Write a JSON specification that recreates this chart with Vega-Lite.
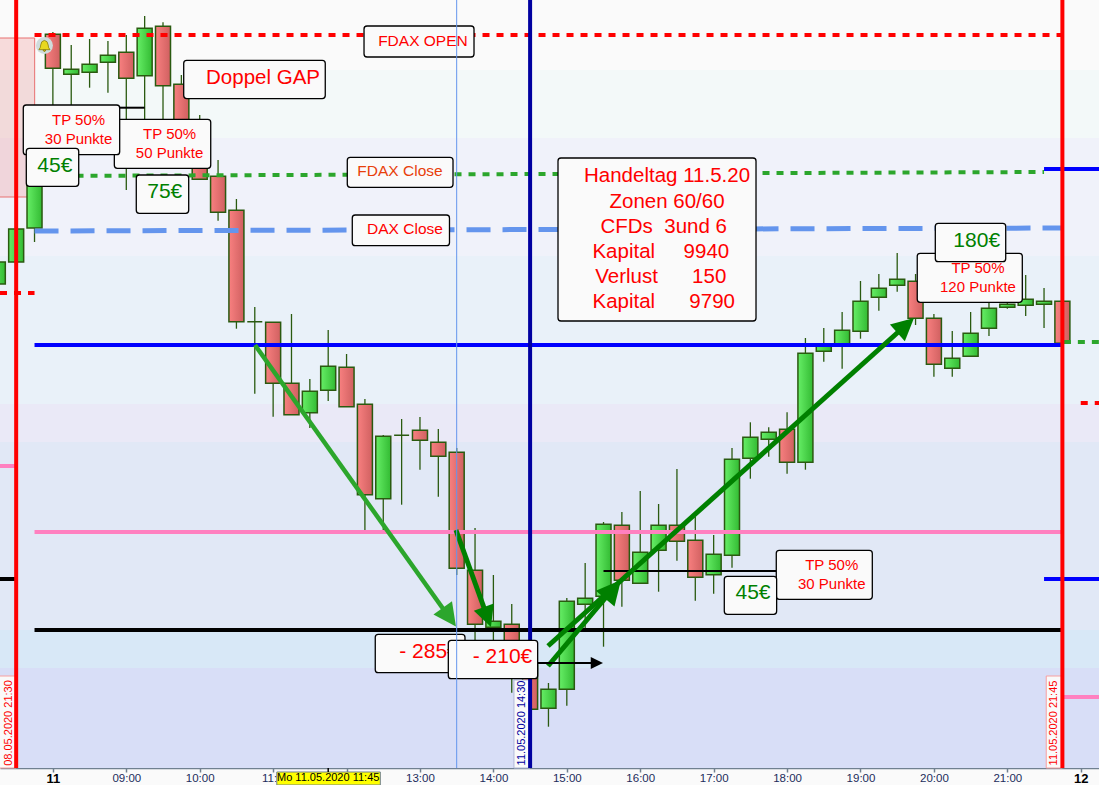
{
"$schema":"https://vega.github.io/schema/vega-lite/v6.json",
"width":1099,"height":768,"autosize":"none","padding":{"left":0,"top":0,"right":0,"bottom":17},
"background":"#fafafa",
"config":{"view":{"stroke":null},"font":"Liberation Sans","axis":{"grid":false}},
"resolve":{"scale":{"color":"independent","stroke":"independent","size":"independent"}},
"datasets":{
"bands":[
{"zone":"a","top":11000,"bottom":10965},{"zone":"b","top":10965,"bottom":10931},{"zone":"c","top":10931,"bottom":10872},{"zone":"d","top":10872,"bottom":10798},{"zone":"e","top":10798,"bottom":10779},{"zone":"f","top":10779,"bottom":10685},{"zone":"g","top":10685,"bottom":10666},{"zone":"h","top":10666,"bottom":10616}],
"candles":[
{"t":7.25,"open":10858,"high":10869,"low":10858,"close":10869},
{"t":7.5,"open":10869,"high":10885.5,"low":10869,"close":10885.5},
{"t":7.75,"open":10886,"high":10917.5,"low":10879,"close":10917.5},
{"t":8,"open":10982.85,"high":10984,"low":10940,"close":10965.85},
{"t":8.25,"open":10962.85,"high":10977.5,"low":10945,"close":10965.35},
{"t":8.5,"open":10963.85,"high":10980.5,"low":10956.15,"close":10967.85},
{"t":8.75,"open":10968.85,"high":10979.5,"low":10953.65,"close":10972.35},
{"t":9,"open":10973.85,"high":10982.5,"low":10905,"close":10960.85},
{"t":9.25,"open":10962.15,"high":10992,"low":10940.5,"close":10985.85},
{"t":9.5,"open":10986.85,"high":10988.85,"low":10940,"close":10957.15},
{"t":9.75,"open":10957.85,"high":10962.5,"low":10930,"close":10939},
{"t":10,"open":10939,"high":10942.5,"low":10910.35,"close":10910.35},
{"t":10.25,"open":10911.85,"high":10920,"low":10889.65,"close":10893.85},
{"t":10.5,"open":10894.85,"high":10900.5,"low":10835.65,"close":10839.15},
{"t":10.75,"open":10839.15,"high":10846.5,"low":10803.15,"close":10839.15},
{"t":11,"open":10838.85,"high":10839,"low":10791.65,"close":10808.35},
{"t":11.25,"open":10808.35,"high":10843,"low":10792.65,"close":10792.65},
{"t":11.5,"open":10793.65,"high":10810.5,"low":10786,"close":10804.35},
{"t":11.75,"open":10804.85,"high":10835,"low":10799.5,"close":10816.85},
{"t":12,"open":10816.35,"high":10823,"low":10796.65,"close":10796.65},
{"t":12.25,"open":10797.85,"high":10800.5,"low":10735,"close":10752.65},
{"t":12.5,"open":10750.65,"high":10782.5,"low":10733.5,"close":10781.85},
{"t":12.75,"open":10782.35,"high":10790.5,"low":10747.65,"close":10782.35},
{"t":13,"open":10784.85,"high":10791.5,"low":10765.15,"close":10779.85},
{"t":13.25,"open":10778.85,"high":10785.5,"low":10751.65,"close":10771.85},
{"t":13.5,"open":10773.85,"high":10776,"low":10712.5,"close":10715.85},
{"t":13.75,"open":10714.85,"high":10736,"low":10680,"close":10687.85},
{"t":14,"open":10686.35,"high":10712.5,"low":10677.5,"close":10689.35},
{"t":14.25,"open":10687.85,"high":10698,"low":10653.65,"close":10667.5},
{"t":14.5,"open":10667.5,"high":10677.5,"low":10645.35,"close":10645.35},
{"t":14.75,"open":10645.85,"high":10658.5,"low":10636.65,"close":10655.35},
{"t":15,"open":10655.35,"high":10701,"low":10647.15,"close":10699.35},
{"t":15.25,"open":10697.85,"high":10718.5,"low":10685,"close":10700.85},
{"t":15.5,"open":10701.85,"high":10739,"low":10676.65,"close":10737.85},
{"t":15.75,"open":10737.35,"high":10744,"low":10696.65,"close":10709.85},
{"t":16,"open":10708.35,"high":10754.5,"low":10708.35,"close":10723.85},
{"t":16.25,"open":10724.85,"high":10748,"low":10704.15,"close":10737.35},
{"t":16.5,"open":10737.35,"high":10765.5,"low":10719.65,"close":10729.35},
{"t":16.75,"open":10729.85,"high":10741.65,"low":10699.65,"close":10711.35},
{"t":17,"open":10712.65,"high":10732.5,"low":10703.15,"close":10722.85},
{"t":17.25,"open":10722.35,"high":10776,"low":10716.15,"close":10770.35},
{"t":17.5,"open":10770.85,"high":10788.85,"low":10760.65,"close":10781.35},
{"t":17.75,"open":10780.35,"high":10786.35,"low":10771.65,"close":10783.85},
{"t":18,"open":10785.35,"high":10793.85,"low":10763.15,"close":10768.85},
{"t":18.25,"open":10768.85,"high":10831,"low":10765.15,"close":10823.35},
{"t":18.5,"open":10824.35,"high":10836,"low":10819.15,"close":10827.85},
{"t":18.75,"open":10827.5,"high":10844,"low":10815.65,"close":10834.85},
{"t":19,"open":10834.35,"high":10859.5,"low":10830.65,"close":10849.35},
{"t":19.25,"open":10851.35,"high":10863,"low":10844.65,"close":10855.85},
{"t":19.5,"open":10857.35,"high":10873.5,"low":10854.15,"close":10860.35},
{"t":19.75,"open":10859.35,"high":10863,"low":10837.5,"close":10840.85},
{"t":20,"open":10840.85,"high":10843,"low":10811.65,"close":10817.85},
{"t":20.25,"open":10815.85,"high":10834.5,"low":10811.65,"close":10820.85},
{"t":20.5,"open":10821.85,"high":10844,"low":10821.85,"close":10833.35},
{"t":20.75,"open":10835.85,"high":10848.5,"low":10832,"close":10845.85},
{"t":21,"open":10846.35,"high":10855,"low":10845.65,"close":10847.85},
{"t":21.25,"open":10847.35,"high":10862.5,"low":10842,"close":10850.35},
{"t":21.5,"open":10847.85,"high":10856,"low":10836,"close":10849.35},
{"t":21.75,"open":10849.35,"high":10849.35,"low":10828.35,"close":10828.35}],
"levels":[
{"id":"open","kind":"reddash","t":7.75,"p":10982.5},{"id":"open","kind":"reddash","t":21.75,"p":10982.5},
{"id":"s1","kind":"reddash","t":7.28,"p":10853.5},{"id":"s1","kind":"reddash","t":7.75,"p":10853.5},
{"id":"s2","kind":"reddash","t":22,"p":10798.5},{"id":"s2","kind":"reddash","t":22.25,"p":10798.5},
{"id":"close","kind":"greendash","t":7.75,"p":10912},{"id":"close","kind":"greendash","t":21.5,"p":10914},
{"id":"s3","kind":"greendash","t":21.77,"p":10829},{"id":"s3","kind":"greendash","t":22.25,"p":10829},
{"id":"s4","kind":"greendash","t":7.28,"p":10637.5},{"id":"s4","kind":"greendash","t":7.5,"p":10637.5},
{"id":"dax","kind":"bluedash","t":7.75,"p":10884.5},{"id":"dax","kind":"bluedash","t":21.75,"p":10886},
{"id":"blue","kind":"blue","t":7.75,"p":10827.5},{"id":"blue","kind":"blue","t":21.75,"p":10827.5},
{"id":"s5","kind":"blue","t":21.5,"p":10915.5},{"id":"s5","kind":"blue","t":22.25,"p":10915.5},
{"id":"s6","kind":"blue","t":21.5,"p":10710.5},{"id":"s6","kind":"blue","t":22.25,"p":10710.5},
{"id":"pink","kind":"pink","t":7.75,"p":10734},{"id":"pink","kind":"pink","t":21.75,"p":10734},
{"id":"s7","kind":"pink","t":7.28,"p":10767},{"id":"s7","kind":"pink","t":7.5,"p":10767},
{"id":"s8","kind":"pink","t":21.77,"p":10651.5},{"id":"s8","kind":"pink","t":22.25,"p":10651.5},
{"id":"black","kind":"black","t":7.75,"p":10685},{"id":"black","kind":"black","t":21.75,"p":10685},
{"id":"s9","kind":"black","t":7.28,"p":10710.5},{"id":"s9","kind":"black","t":7.5,"p":10710.5},
{"id":"tp1","kind":"thin","t":15.5,"p":10714.5},{"id":"tp1","kind":"thin","t":17.85,"p":10714.5},
{"id":"tp2","kind":"thin","t":8.887,"p":10946.15},{"id":"tp2","kind":"thin","t":9.25,"p":10946.15}],
"vlines":[{"kind":"red","t":7.5},{"kind":"red","t":21.75},{"kind":"navy","t":14.5},{"kind":"cursor","t":13.5}],
"arrows":[
{"id":"A","part":"shaft","t":10.753,"p":10827.5},{"id":"A","part":"shaft","t":13.395,"p":10691.5},{"id":"A","part":"tip","t":13.49,"p":10686.75},
{"id":"B","part":"shaft","t":13.49,"p":10735},{"id":"B","part":"shaft","t":13.913,"p":10692},{"id":"B","part":"tip","t":13.967,"p":10686.5},
{"id":"C","part":"shaft","t":14.744,"p":10667},{"id":"C","part":"shaft","t":15.629,"p":10705.5},{"id":"C","part":"tip","t":15.738,"p":10710},
{"id":"D","part":"shaft","t":14.744,"p":10677},{"id":"D","part":"shaft","t":19.606,"p":10837},{"id":"D","part":"tip","t":19.729,"p":10841},
{"id":"E","part":"shaft","t":14.58,"p":10668.5},{"id":"E","part":"shaft","t":15.383,"p":10668.5},{"id":"E","part":"tip","t":15.493,"p":10668.5}],
"boxes":[
{"tier":1,"t1":8.837,"t2":10.15,"p1":10940.35,"p2":10915.85},
{"tier":1,"t1":12.391,"t2":13.613,"p1":10682.85,"p2":10663.65},
{"tier":1,"t1":19.773,"t2":21.204,"p1":10873.35,"p2":10848.85},
{"tier":1,"t1":17.853,"t2":19.161,"p1":10724.85,"p2":10700.35},
{"tier":2,"t1":7.597,"t2":8.91,"p1":10947.5,"p2":10922.65},
{"tier":2,"t1":13.386,"t2":14.603,"p1":10679.85,"p2":10660.65},
{"tier":2,"t1":20.019,"t2":20.978,"p1":10888.35,"p2":10869.15},
{"tier":2,"t1":17.145,"t2":17.858,"p1":10711.85,"p2":10692.85},
{"tier":2,"t1":9.136,"t2":9.85,"p1":10912.5,"p2":10893.35},
{"tier":2,"t1":9.782,"t2":11.71,"p1":10969.85,"p2":10950.7},
{"tier":2,"t1":12.238,"t2":13.736,"p1":10987,"p2":10971.5},
{"tier":2,"t1":12.01,"t2":13.45,"p1":10921.35,"p2":10906.35},
{"tier":2,"t1":12.078,"t2":13.402,"p1":10892.5,"p2":10877.15},
{"tier":2,"t1":14.88,"t2":17.577,"p1":10921,"p2":10839.5},
{"tier":3,"t1":7.638,"t2":8.352,"p1":10925.85,"p2":10906.85}],
"texts":[
{"tier":1,"style":"tp","text":"TP 50%","t":9.59,"p":10933.15},
{"tier":1,"style":"tp","text":"50 Punkte","t":9.59,"p":10923.35},
{"tier":1,"style":"loss","text":"- 285€","t":13.123,"p":10673.85},
{"tier":1,"style":"tp","text":"TP 50%","t":20.6,"p":10865.85},
{"tier":1,"style":"tp","text":"120 Punkte","t":20.6,"p":10856.35},
{"tier":1,"style":"tp","text":"TP 50%","t":18.608,"p":10717.5},
{"tier":1,"style":"tp","text":"30 Punkte","t":18.608,"p":10707.85},
{"tier":2,"style":"tp","text":"TP 50%","t":8.35,"p":10940},
{"tier":2,"style":"tp","text":"30 Punkte","t":8.35,"p":10930.35},
{"tier":2,"style":"loss","text":"- 210€","t":14.124,"p":10671.35},
{"tier":2,"style":"euro","text":"180€","t":20.583,"p":10879.65},
{"tier":2,"style":"euro","text":"45€","t":17.536,"p":10703.35},
{"tier":2,"style":"euro","text":"75€","t":9.524,"p":10903.85},
{"tier":2,"style":"big","text":"Doppel GAP","t":10.862,"p":10961},
{"tier":2,"style":"label","text":"FDAX OPEN","t":13.04,"p":10979.5},
{"tier":2,"style":"orange","text":"FDAX Close","t":12.728,"p":10914.5},
{"tier":2,"style":"label","text":"DAX Close","t":12.796,"p":10885.5},
{"tier":2,"style":"big","text":"Handeltag 11.5.20","t":16.365,"p":10912},
{"tier":2,"style":"big","text":"Zonen 60/60","t":16.365,"p":10899},
{"tier":2,"style":"big","text":"CFDs\u00a0\u00a03und 6","t":16.32,"p":10886.5},
{"tier":2,"style":"big","text":"Kapital\u00a0\u00a0\u00a0\u00a0\u00a09940","t":16.28,"p":10874},
{"tier":2,"style":"big","text":"Verlust\u00a0\u00a0\u00a0\u00a0\u00a0\u00a0150","t":16.28,"p":10861.5},
{"tier":2,"style":"big","text":"Kapital\u00a0\u00a0\u00a0\u00a0\u00a0\u00a09790","t":16.32,"p":10849},
{"tier":3,"style":"euro","text":"45€","t":8.026,"p":10917.15}],
"dates":[
{"kind":"red","text":"08.05.2020 21:30","t1":7.2,"t2":7.5,"tc":7.396,"top":10662,"bottom":10616,"mid":10638.5},
{"kind":"navy","text":"11.05.2020 14:30","t1":14.28,"t2":14.5,"tc":14.395,"top":10660,"bottom":10616,"mid":10638.5},
{"kind":"red","text":"11.05.2020 21:45","t1":21.53,"t2":21.75,"tc":21.63,"top":10662,"bottom":10616,"mid":10638.5}],
"cursor":[{"text":"Mo 11.05.2020 11:45","t":11.75,"t1":11.05,"t2":12.46,"p1":10614,"p2":10607.5,"pm":10611,"tickTop":10616,"tickBottom":10614}],
"bell":[{"t":7.885,"p":10977.2}],
"gap":[{"t1":7.2,"t2":7.752,"p1":10981,"p2":10901.5}]
},
"layer":[
{"data":{"name":"bands"},"mark":{"type":"rect"},"encoding":{
"y":{"field":"top","type":"quantitative","axis":null,"scale":{"domain":[10616,11000],"zero":false,"nice":false}},
"y2":{"field":"bottom"},
"color":{"field":"zone","type":"nominal","legend":null,"scale":{"domain":["a","b","c","d","e","f","g","h"],"range":["#fafafa","#f3f9f9","#f0f2fa","#e9f1f9","#eae9f7","#e1e8f6","#d8e8f7","#d8def7"]}}}},
{"data":{"name":"gap"},"mark":{"type":"rect","fill":"#f08080","fillOpacity":0.25,"stroke":"#e87070","strokeWidth":1},"encoding":{
"x":{"field":"t1","type":"quantitative","title":null,"scale":{"domain":[7.2798,22.2486],"zero":false,"nice":false,"padding":0},
"axis":{"title":null,"values":[8,9,10,11,12,13,14,15,16,17,18,19,20,21,22],"labelExpr":"datum.value==8?'11':datum.value==22?'12':datum.value==11?'11:':datum.value==12?'':(datum.value<10?'0':'')+datum.value+':00'","tickSize":4,"tickColor":"#708090","domainColor":"#708090","domainWidth":1.5,"tickWidth":1.5,"labelOverlap":false,"labelFlush":false,"labelPadding":0,"labelOffset":{"condition":{"test":"datum.value==11","value":-4},"value":0},"labelColor":{"condition":{"test":"datum.value==8||datum.value==22","value":"#000000"},"value":"#1c2c5c"},"labelFontWeight":{"condition":{"test":"datum.value==8||datum.value==22","value":"bold"},"value":"normal"},"labelFontSize":{"condition":{"test":"datum.value==8||datum.value==22","value":13},"value":11.5},"grid":false}},
"x2":{"field":"t2"},
"y":{"field":"p1","type":"quantitative","axis":null},"y2":{"field":"p2"}}},
{"data":{"name":"candles"},"mark":{"type":"rule","color":"#2a5a10","strokeWidth":1.3},"encoding":{
"x":{"field":"t","type":"quantitative","title":null},
"y":{"field":"high","type":"quantitative","axis":null},"y2":{"field":"low"}}},
{"data":{"name":"candles"},"transform":[{"filter":"datum.close>=datum.open"}],"mark":{"type":"bar","orient":"vertical","width":15,"stroke":"#2a5a10","strokeWidth":1.5,"fill":{"gradient":"linear","x1":0,"x2":1,"y1":0,"y2":0,"stops":[{"offset":0,"color":"#66ee66"},{"offset":1,"color":"#33bb33"}]}},"encoding":{
"x":{"field":"t","type":"quantitative","title":null},
"y":{"field":"open","type":"quantitative","axis":null},"y2":{"field":"close"}}},
{"data":{"name":"candles"},"transform":[{"filter":"datum.close<datum.open"}],"mark":{"type":"bar","orient":"vertical","width":15,"stroke":"#2a5a10","strokeWidth":1.5,"fill":{"gradient":"linear","x1":0,"x2":1,"y1":0,"y2":0,"stops":[{"offset":0,"color":"#f88080"},{"offset":1,"color":"#d06060"}]}},"encoding":{
"x":{"field":"t","type":"quantitative","title":null},
"y":{"field":"open","type":"quantitative","axis":null},"y2":{"field":"close"}}},
{"data":{"name":"levels"},"transform":[{"filter":"datum.kind=='reddash'"}],"mark":{"type":"line","color":"#ff0000","strokeWidth":4,"strokeDash":[7,7]},"encoding":{"x":{"field":"t","type":"quantitative","title":null},"y":{"field":"p","type":"quantitative","axis":null},"detail":{"field":"id"}}},
{"data":{"name":"levels"},"transform":[{"filter":"datum.kind=='greendash'"}],"mark":{"type":"line","color":"#2ca62c","strokeWidth":4,"strokeDash":[7,7]},"encoding":{"x":{"field":"t","type":"quantitative","title":null},"y":{"field":"p","type":"quantitative","axis":null},"detail":{"field":"id"}}},
{"data":{"name":"levels"},"transform":[{"filter":"datum.kind=='bluedash'"}],"mark":{"type":"line","color":"#6495ed","strokeWidth":5,"strokeDash":[24,12]},"encoding":{"x":{"field":"t","type":"quantitative","title":null},"y":{"field":"p","type":"quantitative","axis":null},"detail":{"field":"id"}}},
{"data":{"name":"levels"},"transform":[{"filter":"datum.kind=='blue'"}],"mark":{"type":"line","color":"#0000ff","strokeWidth":4},"encoding":{"x":{"field":"t","type":"quantitative","title":null},"y":{"field":"p","type":"quantitative","axis":null},"detail":{"field":"id"}}},
{"data":{"name":"levels"},"transform":[{"filter":"datum.kind=='pink'"}],"mark":{"type":"line","color":"#ff80c0","strokeWidth":4},"encoding":{"x":{"field":"t","type":"quantitative","title":null},"y":{"field":"p","type":"quantitative","axis":null},"detail":{"field":"id"}}},
{"data":{"name":"levels"},"transform":[{"filter":"datum.kind=='black'"}],"mark":{"type":"line","color":"#000000","strokeWidth":4},"encoding":{"x":{"field":"t","type":"quantitative","title":null},"y":{"field":"p","type":"quantitative","axis":null},"detail":{"field":"id"}}},
{"data":{"name":"levels"},"transform":[{"filter":"datum.kind=='thin'"}],"mark":{"type":"line","color":"#000000","strokeWidth":2},"encoding":{"x":{"field":"t","type":"quantitative","title":null},"y":{"field":"p","type":"quantitative","axis":null},"detail":{"field":"id"}}},
{"data":{"name":"arrows"},"transform":[{"filter":"datum.part=='shaft'&&datum.id=='A'"}],"mark":{"type":"line","color":"#2ca62c","strokeWidth":4.5},"encoding":{"x":{"field":"t","type":"quantitative","title":null},"y":{"field":"p","type":"quantitative","axis":null}}},
{"data":{"name":"arrows"},"transform":[{"filter":"datum.part=='shaft'&&(datum.id=='B'||datum.id=='C'||datum.id=='D')"}],"mark":{"type":"line","color":"#008000","strokeWidth":5},"encoding":{"x":{"field":"t","type":"quantitative","title":null},"y":{"field":"p","type":"quantitative","axis":null},"detail":{"field":"id"}}},
{"data":{"name":"arrows"},"transform":[{"filter":"datum.part=='shaft'&&datum.id=='E'"}],"mark":{"type":"line","color":"#000000","strokeWidth":2},"encoding":{"x":{"field":"t","type":"quantitative","title":null},"y":{"field":"p","type":"quantitative","axis":null}}},
{"data":{"name":"arrows"},"transform":[{"filter":"datum.part=='tip'&&datum.id=='A'"}],"mark":{"type":"point","filled":true,"opacity":1,"color":"#2ca62c","shape":"M0,0L-1,2L1,2Z","size":520,"angle":144.5},"encoding":{"x":{"field":"t","type":"quantitative","title":null},"y":{"field":"p","type":"quantitative","axis":null}}},
{"data":{"name":"arrows"},"transform":[{"filter":"datum.part=='tip'&&datum.id=='B'"}],"mark":{"type":"point","filled":true,"opacity":1,"color":"#008000","shape":"M0,0L-1,2L1,2Z","size":450,"angle":160.2},"encoding":{"x":{"field":"t","type":"quantitative","title":null},"y":{"field":"p","type":"quantitative","axis":null}}},
{"data":{"name":"arrows"},"transform":[{"filter":"datum.part=='tip'&&datum.id=='C'"}],"mark":{"type":"point","filled":true,"opacity":1,"color":"#008000","shape":"M0,0L-1,2L1,2Z","size":600,"angle":40.3},"encoding":{"x":{"field":"t","type":"quantitative","title":null},"y":{"field":"p","type":"quantitative","axis":null}}},
{"data":{"name":"arrows"},"transform":[{"filter":"datum.part=='tip'&&datum.id=='D'"}],"mark":{"type":"point","filled":true,"opacity":1,"color":"#008000","shape":"M0,0L-1,2L1,2Z","size":500,"angle":48.1},"encoding":{"x":{"field":"t","type":"quantitative","title":null},"y":{"field":"p","type":"quantitative","axis":null}}},
{"data":{"name":"arrows"},"transform":[{"filter":"datum.part=='tip'&&datum.id=='E'"}],"mark":{"type":"point","filled":true,"opacity":1,"color":"#000000","shape":"M0,0L-1,2L1,2Z","size":150,"angle":90},"encoding":{"x":{"field":"t","type":"quantitative","title":null},"y":{"field":"p","type":"quantitative","axis":null}}},
{"data":{"name":"dates"},"mark":{"type":"rect","fill":"#fafafa","strokeWidth":1},"encoding":{
"x":{"field":"t1","type":"quantitative","title":null},"x2":{"field":"t2"},
"y":{"field":"top","type":"quantitative","axis":null},"y2":{"field":"bottom"},
"stroke":{"field":"kind","type":"nominal","legend":null,"scale":{"domain":["red","navy"],"range":["#f8a0a0","#b0b8d8"]}}}},
{"data":{"name":"dates"},"mark":{"type":"text","angle":270,"align":"center","baseline":"middle","fontSize":11,"font":"Liberation Sans"},"encoding":{
"x":{"field":"tc","type":"quantitative","title":null},"y":{"field":"mid","type":"quantitative","axis":null},
"text":{"field":"text"},
"color":{"field":"kind","type":"nominal","legend":null,"scale":{"domain":["red","navy"],"range":["#ff0000","#0000a0"]}}}},
{"data":{"name":"vlines"},"transform":[{"filter":"datum.kind=='red'"}],"mark":{"type":"rule","color":"#ff0000","strokeWidth":4},"encoding":{"x":{"field":"t","type":"quantitative","title":null}}},
{"data":{"name":"vlines"},"transform":[{"filter":"datum.kind=='navy'"}],"mark":{"type":"rule","color":"#0000a0","strokeWidth":4},"encoding":{"x":{"field":"t","type":"quantitative","title":null}}},
{"data":{"name":"boxes"},"transform":[{"filter":"datum.tier==1"}],"mark":{"type":"rect","fill":"#fafafa","stroke":"#000000","strokeWidth":1.3,"cornerRadius":3},"encoding":{"x":{"field":"t1","type":"quantitative","title":null},"x2":{"field":"t2"},"y":{"field":"p1","type":"quantitative","axis":null},"y2":{"field":"p2"}}},
{"data":{"name":"texts"},"transform":[{"filter":"datum.tier==1"}],"mark":{"type":"text","align":"center","baseline":"middle","font":"Liberation Sans"},"encoding":{"x":{"field":"t","type":"quantitative","title":null},"y":{"field":"p","type":"quantitative","axis":null},"text":{"field":"text"},
"color":{"field":"style","type":"nominal","legend":null,"scale":{"domain":["tp","label","orange","big","loss","euro"],"range":["#ff0000","#ff0000","#e8400a","#ff0000","#ff0000","#008000"]}},
"size":{"field":"style","type":"nominal","legend":null,"scale":{"type":"ordinal","domain":["tp","label","orange","big","loss","euro"],"range":[15,15.5,15.5,20.5,21,21]}}}},
{"data":{"name":"boxes"},"transform":[{"filter":"datum.tier==2"}],"mark":{"type":"rect","fill":"#fafafa","stroke":"#000000","strokeWidth":1.3,"cornerRadius":3},"encoding":{"x":{"field":"t1","type":"quantitative","title":null},"x2":{"field":"t2"},"y":{"field":"p1","type":"quantitative","axis":null},"y2":{"field":"p2"}}},
{"data":{"name":"texts"},"transform":[{"filter":"datum.tier==2"}],"mark":{"type":"text","align":"center","baseline":"middle","font":"Liberation Sans"},"encoding":{"x":{"field":"t","type":"quantitative","title":null},"y":{"field":"p","type":"quantitative","axis":null},"text":{"field":"text"},
"color":{"field":"style","type":"nominal","legend":null,"scale":{"domain":["tp","label","orange","big","loss","euro"],"range":["#ff0000","#ff0000","#e8400a","#ff0000","#ff0000","#008000"]}},
"size":{"field":"style","type":"nominal","legend":null,"scale":{"type":"ordinal","domain":["tp","label","orange","big","loss","euro"],"range":[15,15.5,15.5,20.5,21,21]}}}},
{"data":{"name":"boxes"},"transform":[{"filter":"datum.tier==3"}],"mark":{"type":"rect","fill":"#fafafa","stroke":"#000000","strokeWidth":1.3,"cornerRadius":3},"encoding":{"x":{"field":"t1","type":"quantitative","title":null},"x2":{"field":"t2"},"y":{"field":"p1","type":"quantitative","axis":null},"y2":{"field":"p2"}}},
{"data":{"name":"texts"},"transform":[{"filter":"datum.tier==3"}],"mark":{"type":"text","align":"center","baseline":"middle","font":"Liberation Sans"},"encoding":{"x":{"field":"t","type":"quantitative","title":null},"y":{"field":"p","type":"quantitative","axis":null},"text":{"field":"text"},
"color":{"field":"style","type":"nominal","legend":null,"scale":{"domain":["tp","label","orange","big","loss","euro"],"range":["#ff0000","#ff0000","#e8400a","#ff0000","#ff0000","#008000"]}},
"size":{"field":"style","type":"nominal","legend":null,"scale":{"type":"ordinal","domain":["tp","label","orange","big","loss","euro"],"range":[15,15.5,15.5,20.5,21,21]}}}},
{"data":{"name":"vlines"},"transform":[{"filter":"datum.kind=='cursor'"}],"mark":{"type":"rule","color":"#6495ed","strokeWidth":1},"encoding":{"x":{"field":"t","type":"quantitative","title":null}}},
{"data":{"name":"cursor"},"mark":{"type":"rect","fill":"#ffff00","stroke":"#708090","strokeWidth":1},"encoding":{"x":{"field":"t1","type":"quantitative","title":null},"x2":{"field":"t2"},"y":{"field":"p1","type":"quantitative","axis":null},"y2":{"field":"p2"}}},
{"data":{"name":"cursor"},"mark":{"type":"text","align":"center","baseline":"middle","fontSize":11,"color":"#000000","font":"Liberation Sans"},"encoding":{"x":{"field":"t","type":"quantitative","title":null},"y":{"field":"pm","type":"quantitative","axis":null},"text":{"field":"text"}}},
{"data":{"name":"cursor"},"mark":{"type":"rule","color":"#000000","strokeWidth":1.5},"encoding":{"x":{"field":"t","type":"quantitative","title":null},"y":{"field":"tickTop","type":"quantitative","axis":null},"y2":{"field":"tickBottom"}}},
{"data":{"name":"bell"},"mark":{"type":"point","filled":true,"opacity":1,"shape":"circle","size":289,"color":"#cfdcdc"},"encoding":{"x":{"field":"t","type":"quantitative","title":null},"y":{"field":"p","type":"quantitative","axis":null}}},
{"data":{"name":"bell"},"mark":{"type":"point","filled":true,"opacity":1,"shape":"M-0.75,0.55Q-0.5,0.3,-0.5,-0.1Q-0.45,-0.65,0,-0.7Q0.45,-0.65,0.5,-0.1Q0.5,0.3,0.75,0.55ZM-0.2,0.6L0.2,0.6L0,0.85Z","size":220,"color":"#e8d820","stroke":"#807000","strokeWidth":0.7},"encoding":{"x":{"field":"t","type":"quantitative","title":null},"y":{"field":"p","type":"quantitative","axis":null}}}
]
}
